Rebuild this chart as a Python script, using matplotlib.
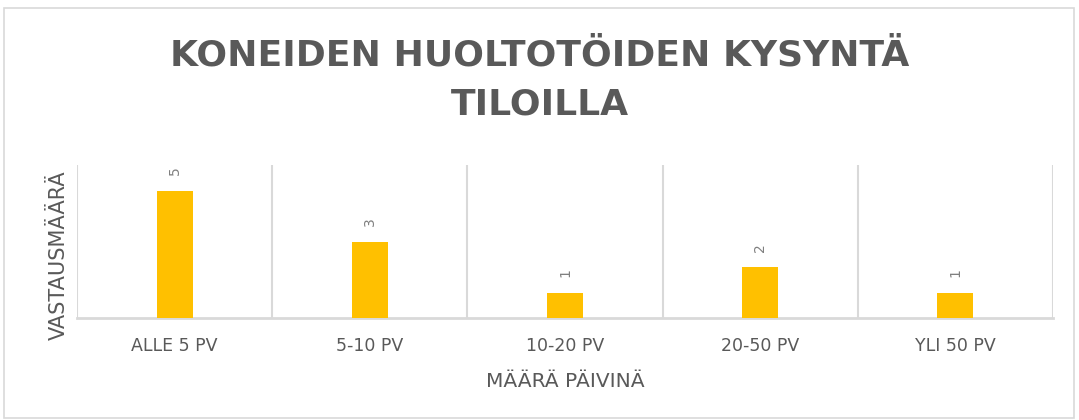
import matplotlib.pyplot as plt
import numpy as np
from matplotlib.patches import Rectangle

# Data
categories = ["ALLE 5 PV", "5-10 PV", "10-20 PV", "20-50 PV", "YLI 50 PV"]
counts = [5, 3, 1, 2, 1]

title = "KONEIDEN HUOLTOTÖIDEN KYSYNTÄ\nTILOILLA"
xlabel = "MÄÄRÄ PÄIVINÄ"
ylabel = "VASTAUSMÄÄRÄ"

text_color = "#595959"
grid_color = "#d9d9d9"
bar_color = "#ffc000"

plt.rcParams['font.family'] = ['DejaVu Sans']

fig = plt.figure(figsize=(10.79, 4.20), dpi=100)
ax = fig.add_axes([77 / 1079, 1 - 318 / 420, (1053 - 77) / 1079, (318 - 165) / 420])

x = np.arange(len(categories))
bars = ax.bar(x, counts, width=0.185, color=bar_color, zorder=3)

for rect, v in zip(bars, counts):
    ax.annotate(str(v), (rect.get_x() + rect.get_width() / 2, rect.get_height()),
                xytext=(0, 11), textcoords="offset points", ha="center", va="bottom",
                rotation=90, fontsize=10, color="#7f7f7f")

ax.set_xlim(-0.5, len(categories) - 0.5)
ax.set_ylim(0, 6)
ax.set_xticks(x)
ax.set_xticklabels(categories, fontsize=12.5, color=text_color)
ax.set_xticks(np.arange(-0.5, len(categories)), minor=True)
ax.set_yticks([])
ax.tick_params(axis="x", which="both", length=0, pad=14)
ax.grid(axis="x", which="minor", color=grid_color, linewidth=1.5, zorder=0)
for side in ["top", "left", "right"]:
    ax.spines[side].set_visible(False)
ax.spines["bottom"].set_color(grid_color)
ax.spines["bottom"].set_linewidth(2)

ax.set_xlabel(xlabel, fontsize=14.5, color=text_color, labelpad=12)
ax.set_ylabel(ylabel, fontsize=15, color=text_color)
ax.yaxis.set_label_coords(-0.008, 0.41)

fig.text(0.5, 1 - 80 / 420, title, ha="center", va="center", fontsize=26,
         fontweight="bold", color=text_color, linespacing=1.55)

# chart border
fig.patches.append(Rectangle((4 / 1079, 2 / 420), 1070 / 1079, 410 / 420,
                             transform=fig.transFigure, fill=False,
                             edgecolor=grid_color, linewidth=1.2))

fig.savefig("out.png", dpi=100)
